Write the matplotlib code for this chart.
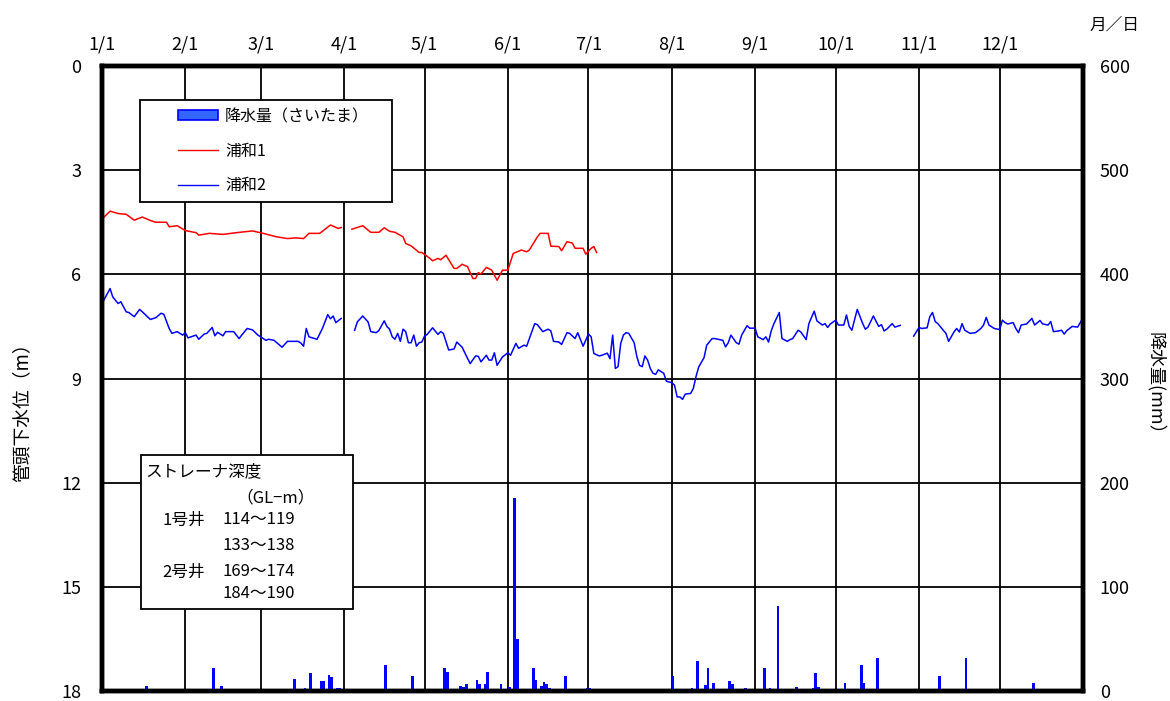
import numpy as np
import matplotlib
matplotlib.use("Agg")
from matplotlib import pyplot as plt
from matplotlib.patches import Rectangle
from matplotlib.lines import Line2D

plt.rcParams['font.family'] = ['Noto Sans CJK JP', 'DejaVu Sans']

# month ticks (day of year, non-leap year)
month_days = [0, 31, 59, 90, 120, 151, 181, 212, 243, 273, 304, 334]
month_labels = ["1/1", "2/1", "3/1", "4/1", "5/1", "6/1", "7/1", "8/1", "9/1", "10/1", "11/1", "12/1"]

# 浦和1 (red), two segments split at the gap near 4/1
red1_day = [0, 3, 6, 9, 12, 15, 18, 20, 24, 25, 28, 31, 35, 36, 40, 45, 50, 56, 60, 65, 69, 72, 75, 77, 81, 85, 88, 89]
red1_val = [4.41, 4.18, 4.25, 4.27, 4.44, 4.35, 4.45, 4.5, 4.5, 4.63, 4.6, 4.74, 4.8, 4.87, 4.82, 4.85, 4.8, 4.75,
            4.82, 4.92, 4.97, 4.95, 4.97, 4.82, 4.82, 4.58, 4.68, 4.65]
red2_day = [93, 97, 100, 103, 105, 107, 109, 112, 113, 115, 118, 119, 122, 123, 125, 126, 128, 131, 132, 134, 136,
            138, 139, 140, 141, 143, 145, 147, 149, 151, 153, 156, 158, 159, 162, 163, 166, 167, 170, 171, 173, 175,
            176, 179, 180, 182, 183, 184]
red2_val = [4.70, 4.6, 4.79, 4.79, 4.66, 4.76, 4.79, 4.92, 5.11, 5.18, 5.37, 5.37, 5.54, 5.61, 5.54, 5.58, 5.45,
            5.83, 5.83, 5.71, 5.78, 6.12, 6.12, 5.95, 5.99, 5.8, 5.88, 6.17, 5.88, 5.88, 5.4, 5.3, 5.35, 5.3, 4.92,
            4.82, 4.82, 5.19, 5.2, 5.32, 5.06, 5.1, 5.25, 5.25, 5.42, 5.25, 5.2, 5.37]

# 浦和2 (blue), three segments
blue1_day = [0, 3, 4, 6, 7, 9, 10, 12, 14, 15, 18, 20, 22, 23, 25, 26, 28, 30, 31, 32, 35, 36, 38, 39, 41, 42, 43,
             45, 46, 49, 51, 52, 54, 56, 58, 59, 61, 62, 64, 67, 69, 73, 74, 75, 76, 77, 80, 82, 84, 85, 86, 87, 89]
blue1_val = [6.84, 6.41, 6.65, 6.84, 6.79, 7.08, 7.1, 7.22, 7.01, 7.08, 7.3, 7.25, 7.12, 7.15, 7.56, 7.7, 7.65,
             7.75, 7.68, 7.83, 7.75, 7.87, 7.72, 7.7, 7.53, 7.77, 7.67, 7.77, 7.65, 7.65, 7.85, 7.75, 7.56, 7.6,
             7.75, 7.8, 7.9, 7.87, 7.9, 8.1, 7.93, 7.93, 7.98, 8.07, 7.56, 7.8, 7.87, 7.56, 7.16, 7.28, 7.2, 7.39,
             7.27]
blue2_day = [94, 95, 97, 99, 100, 102, 103, 105, 106, 107, 108, 109, 110, 111, 112, 113, 114, 115, 116, 117, 118,
             119, 120, 121, 123, 125, 126, 127, 129, 131, 132, 134, 136, 137, 139, 140, 141, 143, 144, 145, 146, 147,
             149, 151, 152, 154, 155, 157, 158, 161, 162, 164, 166, 167, 168, 170, 171, 173, 174, 176, 177, 179, 181,
             182, 183, 185, 186, 188, 189, 190, 191, 192, 193, 194, 195, 196, 198, 199, 200, 201, 202, 203, 204, 205,
             206, 207, 209, 210, 212, 213, 214, 215, 216, 217, 219, 220, 221, 222, 224, 225, 227, 228, 231, 232, 233,
             234, 236, 237, 238, 240, 241, 243, 244, 246, 247, 248, 249, 250, 252, 253, 255, 256, 257, 259, 260, 262,
             263, 265, 266, 268, 269, 270, 271, 273, 274, 276, 277, 278, 279, 281, 283, 284, 285, 287, 289, 290, 291,
             292, 294, 295, 297]
blue2_val = [7.61, 7.37, 7.2, 7.37, 7.65, 7.68, 7.62, 7.34, 7.5, 7.58, 7.8, 7.87, 7.7, 7.93, 7.58, 7.65, 7.97, 7.97,
             7.75, 8.07, 7.97, 7.95, 7.78, 7.73, 7.54, 7.73, 7.65, 7.7, 8.18, 8.15, 7.95, 8.1, 8.42, 8.57, 8.35, 8.36,
             8.52, 8.33, 8.47, 8.47, 8.26, 8.62, 8.38, 8.26, 8.33, 7.99, 8.13, 8.04, 8.07, 7.42, 7.45, 7.65, 7.58,
             7.63, 7.93, 7.95, 8.02, 7.68, 7.7, 7.85, 7.68, 8.07, 7.72, 7.8, 8.28, 8.35, 8.33, 8.27, 8.43, 7.75, 8.71,
             8.66, 7.99, 7.75, 7.68, 7.7, 7.97, 8.37, 8.62, 8.66, 8.35, 8.47, 8.71, 8.85, 8.88, 8.75, 8.85, 9.08,
             9.12, 9.19, 9.53, 9.53, 9.6, 9.45, 9.43, 9.29, 8.95, 8.67, 8.4, 8.04, 7.85, 7.85, 7.9, 8.09, 7.97, 7.75,
             7.97, 8.01, 7.75, 7.48, 7.55, 7.55, 7.8, 7.88, 7.8, 7.95, 7.63, 7.42, 7.1, 7.85, 7.93, 7.88, 7.85, 7.61,
             7.66, 7.88, 7.42, 7.06, 7.34, 7.46, 7.42, 7.53, 7.43, 7.32, 7.46, 7.46, 7.17, 7.5, 7.61, 7.01, 7.41,
             7.58, 7.52, 7.2, 7.5, 7.45, 7.63, 7.58, 7.42, 7.52, 7.47]
blue3_day = [302, 304, 305, 307, 308, 309, 310, 311, 313, 314, 315, 317, 318, 319, 320, 321, 323, 325, 327, 328,
             329, 330, 332, 334, 335, 336, 337, 339, 340, 341, 342, 344, 346, 347, 349, 350, 352, 353, 354, 356, 357,
             358, 359, 361, 363, 364, 365]
blue3_val = [7.78, 7.53, 7.56, 7.54, 7.22, 7.1, 7.36, 7.42, 7.61, 7.7, 7.93, 7.66, 7.56, 7.66, 7.42, 7.61, 7.7,
             7.68, 7.56, 7.46, 7.24, 7.46, 7.56, 7.59, 7.32, 7.39, 7.43, 7.39, 7.56, 7.68, 7.46, 7.43, 7.27, 7.46,
             7.33, 7.43, 7.46, 7.36, 7.65, 7.63, 7.61, 7.72, 7.62, 7.5, 7.52, 7.39, 7.25]

# 降水量(さいたま) daily rainfall, mm
rain_day = [14, 16, 39, 41, 44, 54, 71, 75, 77, 81, 82, 84, 85, 87, 88, 96, 97, 105, 115, 119, 127, 128, 132, 133,
            134, 135, 139, 140, 142, 143, 148, 149, 151, 153, 154, 157, 158, 160, 161, 163, 164, 165, 166, 172, 179,
            180, 181, 184, 186, 188, 190, 212, 218, 219, 221, 224, 225, 227, 228, 233, 234, 236, 238, 239, 245, 246,
            248, 251, 252, 258, 263, 264, 265, 266, 273, 276, 282, 283, 288, 300, 309, 311, 313, 321, 340, 346, 349]
rain_mm = [2, 5, 2, 22, 5, 2, 12, 3, 17, 10, 10, 15, 13, 3, 3, 2, 2, 25, 14, 2, 22, 18, 2, 5,
           4, 7, 11, 7, 7, 18, 7, 2, 4, 185, 50, 2, 2, 22, 11, 5, 9, 7, 3, 14, 2,
           3, 3, 1, 1, 1, 1, 14, 2, 3, 29, 6, 22, 8, 2, 10, 7, 2, 2, 3, 2, 22,
           3, 82, 2, 4, 2, 3, 17, 4, 2, 8, 25, 8, 32, 2, 2, 14, 2, 32, 2, 8, 2]

W, H = 1170, 701
fig = plt.figure(figsize=(W / 100, H / 100), dpi=100)
ax = fig.add_axes([102 / W, 1 - 691 / H, 981 / W, 625 / H])
ax2 = ax.twinx()

# water level lines
ax.plot(red1_day, red1_val, color="red", lw=1.1)
ax.plot(red2_day, red2_val, color="red", lw=1.1)
ax.plot(blue1_day, blue1_val, color="blue", lw=1.1)
ax.plot(blue2_day, blue2_val, color="blue", lw=1.1)
ax.plot(blue3_day, blue3_val, color="blue", lw=1.1)

ax.set_xlim(0, 365)
ax.set_ylim(18, 0)
ax.set_yticks(np.arange(0, 19, 3))
ax.set_xticks(month_days)
ax.set_xticklabels(month_labels)
ax.xaxis.tick_top()
ax.tick_params(axis="x", length=0, pad=9, labelsize=13)
ax.tick_params(axis="y", length=0, pad=15, labelsize=13)
ax.grid(True, color="black", lw=1.3)
ax.set_axisbelow(True)

# rainfall bars
ax2.bar(rain_day, rain_mm, width=1.0, align="edge", color="blue", edgecolor="none")
ax2.set_ylim(0, 600)
ax2.set_yticks(np.arange(0, 601, 100))
ax2.tick_params(axis="y", length=0, pad=12, labelsize=13)

for a in (ax, ax2):
    for s in a.spines.values():
        s.set_linewidth(3.2)
        s.set_color("black")

fig.text(22 / W, 1 - 408 / H, "管頭下水位（m）", rotation=90, ha="center", va="center", fontsize=13.5)
fig.text(1156 / W, 1 - 388 / H, "降水量(mm）", rotation=-90, ha="center", va="center", fontsize=13)
fig.text(1114 / W, 1 - 25 / H, "月／日", ha="center", va="center", fontsize=12)

# legend frame and legend
fig.patches.append(Rectangle((140 / W, 1 - 202 / H), 252 / W, 102 / H, transform=fig.transFigure,
                             facecolor="white", edgecolor="black", lw=1.3, zorder=1))
handles = [Rectangle((0, 0), 1, 1, facecolor="#3366ff", edgecolor="blue", lw=1.2),
           Line2D([], [], color="red", lw=1.0),
           Line2D([], [], color="blue", lw=1.0)]
labels = ["降水量（さいたま）", "浦和1", "浦和2"]
leg = fig.legend(handles, labels, loc="upper left", bbox_to_anchor=(178 / W, 1 - 108 / H),
                 bbox_transform=fig.transFigure, frameon=False, borderpad=0, borderaxespad=0,
                 handlelength=2.5, handleheight=0.6, handletextpad=0.45, labelspacing=1.1, fontsize=11.5)
leg.set_zorder(5)

# strainer depth box
fig.patches.append(Rectangle((141 / W, 1 - 609 / H), 212 / W, 154 / H, transform=fig.transFigure,
                             facecolor="white", edgecolor="black", lw=1.3, zorder=1))
box_txt = [(145, 472, "ストレーナ深度"), (236, 498, "（GL−m）"),
           (162, 520, "1号井"), (223, 520, "114～119"),
           (223, 546, "133～138"),
           (162, 572, "2号井"), (223, 572, "169～174"),
           (223, 593, "184～190")]
for x, y, t in box_txt:
    fig.text(x / W, 1 - y / H, t, ha="left", va="center", fontsize=12, zorder=3)

fig.savefig("out.png", dpi=100)
